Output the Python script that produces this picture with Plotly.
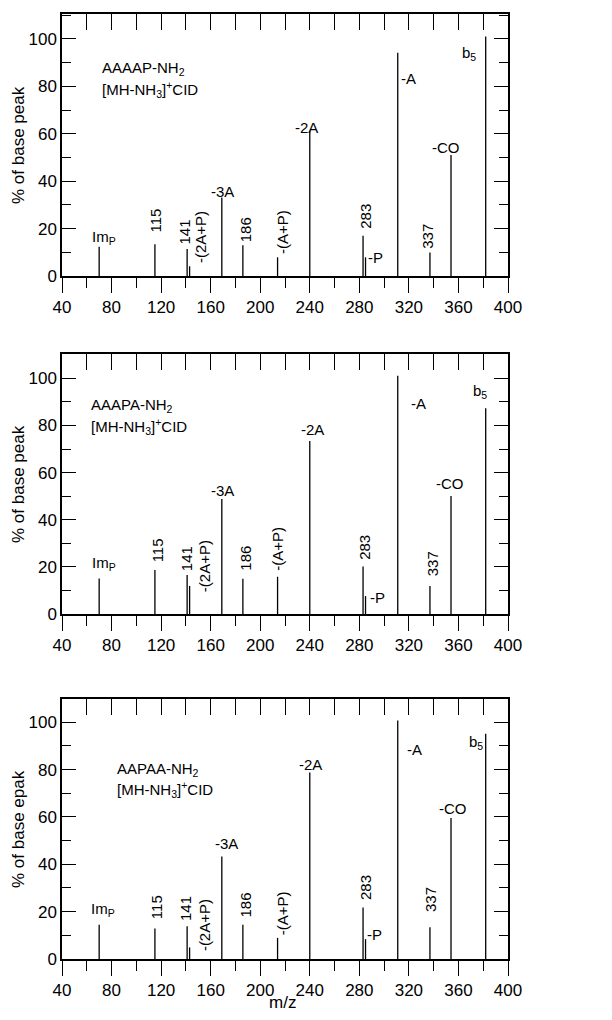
import plotly.graph_objects as go

# ---------------- data ----------------
mz = [70, 115, 141, 143, 169, 186, 214, 240, 283, 285, 311, 337, 354, 382]

int_AAAAP = [12.3, 13.4, 11.4, 4.1, 33.1, 13.0, 7.9, 61.3, 17.0, 7.9, 94.2, 9.9, 51.0, 101.0]
int_AAAPA = [15.1, 18.7, 16.5, 11.9, 48.8, 15.0, 15.8, 73.4, 20.1, 7.6, 101.1, 11.9, 50.1, 87.3]
int_AAPAA = [14.5, 12.9, 13.8, 4.9, 43.3, 14.5, 8.9, 78.8, 21.8, 8.4, 100.7, 13.4, 59.5, 95.1]

peptides = ["AAAAP-NH<sub>2</sub>", "AAAPA-NH<sub>2</sub>", "AAPAA-NH<sub>2</sub>"]
ion_line = "[MH-NH<sub>3</sub>]<sup>+</sup>CID"
y_titles = ["% of base peak", "% of base peak", "% of base epak"]
x_title = "m/z"

label_texts = ["Im<sub>P</sub>", "115", "141", "-(2A+P)", "-3A", "186", "-(A+P)",
               "-2A", "283", "-P", "-A", "337", "-CO", "b<sub>5</sub>"]
label_rotated = [False, True, True, True, False, True, True,
                 False, True, False, False, True, False, False]

x_ticks = [40, 80, 120, 160, 200, 240, 280, 320, 360, 400]
y_ticks = [0, 20, 40, 60, 80, 100]

# ---------------- layout helpers (positions) ----------------
label_pos = [
    # panel 1
    [(74, 16.2), (115.5, 23.2), (139, 18.6), (152.3, 16.5), (169.5, 35.5), (188.3, 19.6),
     (217.9, 18.7), (237.5, 62.7), (285, 25.2), (293, 7.7), (320, 83.1), (335.5, 16.6),
     (350.3, 54.1), (368.3, 94.0)],
    # panel 2
    [(74.2, 21.5), (117.3, 26.9), (140.7, 23.6), (155, 20.5), (169.8, 52.6), (188.6, 23.5),
     (214.2, 27.6), (242.5, 78.1), (284.2, 28.3), (295, 6.9), (328, 89.1), (338.6, 21.5),
     (352.9, 55.2), (377.6, 94.3)],
    # panel 3
    [(73.2, 20.8), (116.3, 21.7), (139.2, 21.5), (154.6, 14.3), (172.7, 48.7), (188.3, 22.9),
     (218, 19.1), (240.4, 82.3), (285.4, 30.0), (292.2, 10.3), (324.5, 88.3), (338, 25.0),
     (355.5, 63.4), (374.4, 91.4)],
]
title_pos = [(70.9, 87.6, 78.7), (62.1, 88.3, 79.5), (83.1, 80.2, 71.4)]
y_ranges = [[0, 110.5], [0, 110.3], [0, 109.8]]

# page is 612x1020; the html body adds an 8px margin around the figure
PAGE_W, PAGE_H, BODY = 612, 1020, 8
W, H = PAGE_W - 2 * BODY, PAGE_H - 2 * BODY
px_rows = [(14, 276), (354, 614), (699, 959)]          # page pixels
x_px = (62, 508)                                        # page pixels


def fx(p):
    return (p - BODY) / W


def fy(p):
    return 1 - (p - BODY) / H


x_dom = [fx(x_px[0]), fx(x_px[1])]

FONT = "Liberation Sans, Arial, sans-serif"
series = [int_AAAAP, int_AAAPA, int_AAPAA]

fig = go.Figure()
annotations = []
layout = {}

for i in range(3):
    n = i + 1
    xa = "x" if n == 1 else f"x{n}"
    ya = "y" if n == 1 else f"y{n}"
    xt = f"x{n + 3}"
    xs, ys = [], []
    for m, h in zip(mz, series[i]):
        xs += [m, m, None]
        ys += [0, h, None]
    fig.add_trace(go.Scatter(x=xs, y=ys, mode="lines", xaxis=xa, yaxis=ya,
                             line=dict(color="black", width=1.3),
                             hoverinfo="skip", showlegend=False))
    # invisible trace to bring the top (mirror) axis to life
    fig.add_trace(go.Scatter(x=[mz[0]], y=[0], mode="markers", xaxis=xt, yaxis=ya,
                             marker=dict(opacity=0), hoverinfo="skip", showlegend=False))

    top, bot = px_rows[i]
    ydom = [fy(bot), fy(top)]
    xkey = "xaxis" if n == 1 else f"xaxis{n}"
    ykey = "yaxis" if n == 1 else f"yaxis{n}"
    layout[xkey] = dict(
        domain=x_dom, anchor=ya, range=[40, 400], tickvals=x_ticks, automargin=False,
        ticks="outside", ticklen=15, tickwidth=1.3, tickcolor="black",
        minor=dict(dtick=20, tick0=40, ticks="outside", ticklen=10, tickwidth=1.3, tickcolor="black"),
        showline=True, linecolor="black", linewidth=1.5, showgrid=False, zeroline=False,
        tickfont=dict(family=FONT, size=17, color="black"),
    )
    layout[f"xaxis{n + 3}"] = dict(
        domain=x_dom, anchor=ya, overlaying=xa, side="top", range=[40, 400], automargin=False,
        dtick=20, tick0=40, ticks="inside", ticklen=16, tickwidth=1.3, tickcolor="black",
        showticklabels=False, showline=True, linecolor="black", linewidth=1.5,
        showgrid=False, zeroline=False,
    )
    layout[ykey] = dict(
        domain=ydom, anchor=xa, range=y_ranges[i], tickvals=y_ticks, automargin=False,
        ticks="inside", ticklen=14, tickwidth=1.3, tickcolor="black",
        minor=dict(dtick=10, ticks="inside", ticklen=9, tickwidth=1.3, tickcolor="black"),
        showline=True, mirror="ticks", linecolor="black", linewidth=1.5,
        showgrid=False, zeroline=False,
        tickfont=dict(family=FONT, size=17, color="black"),
    )
    # y title
    annotations.append(dict(text=y_titles[i], xref="paper", yref="paper",
                            x=fx(18), y=fy((top + bot) / 2), textangle=-90,
                            showarrow=False, xanchor="center", yanchor="middle",
                            font=dict(family=FONT, size=17, color="black")))
    # peak labels
    for (lx, ly), txt, rot in zip(label_pos[i], label_texts, label_rotated):
        annotations.append(dict(text=txt, x=lx, y=ly, xref=xa, yref=ya, showarrow=False,
                                textangle=-90 if rot else 0, xanchor="center", yanchor="middle",
                                font=dict(family=FONT, size=15, color="black")))
    tx, ty1, ty2 = title_pos[i]
    annotations.append(dict(text=peptides[i], x=tx, y=ty1, xref=xa, yref=ya, showarrow=False,
                            xanchor="left", yanchor="middle",
                            font=dict(family=FONT, size=15, color="black")))
    annotations.append(dict(text=ion_line, x=tx, y=ty2, xref=xa, yref=ya, showarrow=False,
                            xanchor="left", yanchor="middle",
                            font=dict(family=FONT, size=15, color="black")))

# x-axis title under the bottom panel (sits at the very bottom edge, as in the reference)
annotations.append(dict(text=x_title, xref="x3", yref="paper",
                        x=218, y=-2 / H,
                        showarrow=False, xanchor="center", yanchor="bottom",
                        font=dict(family=FONT, size=17, color="black")))

fig.update_layout(
    width=W, height=H, margin=dict(l=0, r=0, t=0, b=0, autoexpand=False),
    paper_bgcolor="white", plot_bgcolor="white",
    annotations=annotations, showlegend=False, **layout,
)

fig.write_html("out.html")
